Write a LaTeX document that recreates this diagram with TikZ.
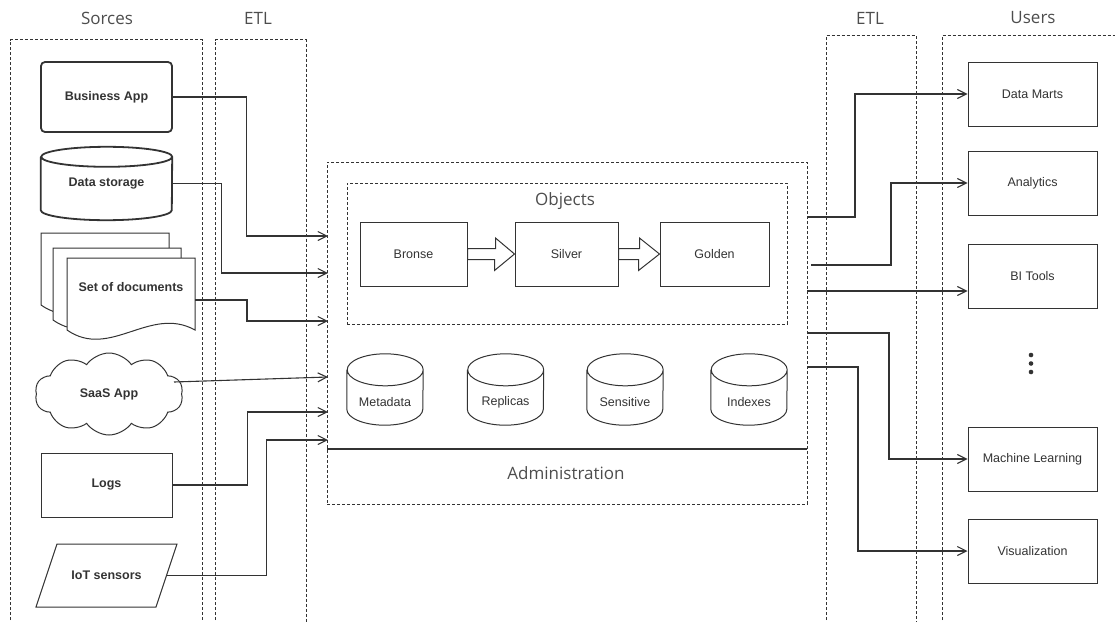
\documentclass[tikz,border=0pt]{standalone}
\usepackage{fontspec}
\setmainfont{Liberation Sans}
\newfontfamily\titlefont{Open Sans}
\usetikzlibrary{arrows.meta,calc,shapes.symbols,shapes.geometric}
\definecolor{ink}{HTML}{333333}
\definecolor{ttlc}{HTML}{4D4D4D}
\tikzset{
  lane/.style={draw=ink, line width=0.9pt, dash pattern=on 3pt off 2pt},
  ttl/.style={font=\titlefont\fontsize{17}{20}\selectfont, text=ttlc, inner sep=0pt},
  boxlbl/.style={font=\fontsize{12.5}{15}\selectfont, text=ink},
  srclbl/.style={font=\bfseries\fontsize{12.5}{15}\selectfont, text=ink},
  plainbox/.style={draw=ink, line width=1pt, rectangle, inner sep=0pt},
  hidden/.style={inner sep=0pt, rectangle},
  conn/.style={draw=ink, line width=1.1pt, -{Straight Barb[length=9pt,width=9pt,line width=1.1pt]}},
  shp/.style={draw=ink, line width=1pt, fill=white},
}
\newcommand\cylout[4]{%
  \draw[draw=ink, line width=#4] ($(#1.north west)+(0,#3)$) -- ($(#1.south west)+(0,-#3)$)
    arc[start angle=180,end angle=360,x radius=#2pt,y radius=#3pt]
    -- ($(#1.north east)+(0,#3)$)
    arc[start angle=0,end angle=360,x radius=#2pt,y radius=#3pt];}
\newcommand\docshape[2]{%
  \begin{scope}[shift={(#1,#2)}]
    \draw[shp] (0,0) -- (128,0) -- (128,72) .. controls (83,47) and (43,102) .. (0,72) -- cycle;
  \end{scope}}
\begin{document}
\begin{tikzpicture}[x=1pt,y=-1pt]
\useasboundingbox (0,0) rectangle (1115,621);
% swimlanes
\draw[lane] (10.5,630) -- (10.5,39.5) -- (202.5,39.5) -- (202.5,630);
\draw[lane] (215.5,630) -- (215.5,39.5) -- (306,39.5) -- (306,630);
\draw[lane] (826,630) -- (826,35.5) -- (916,35.5) -- (916,630);
\draw[lane] (942,630) -- (942,35.5) -- (1120,35.5);
\node[ttl] (tsrc) at (107,18) {Sorces};
\node[ttl] (tetl1) at (258,18) {ETL};
\node[ttl] (tetl2) at (870,18) {ETL};
\node[ttl] (tusr) at (1033,18) {Users};

% sources
\node[plainbox, rounded corners=4pt, line width=1.8pt, minimum width=131, minimum height=70, srclbl] (ba) at (106.5,97) {Business App};
\node[hidden, minimum width=131, minimum height=73] (ds) at (106.5,183.5) {};
\cylout{ds}{65.5}{10}{1.8pt}
\node[srclbl] at (ds.center) {Data storage};
\docshape{41}{233}
\docshape{53}{248}
\docshape{67}{258}
\node[srclbl] (docs) at (131,287) {Set of documents};
\coordinate (docsout) at (195,300);
\node[cloud, cloud puffs=10, cloud puff arc=110, aspect=1.8, draw=ink, line width=1pt, minimum width=148, minimum height=82, inner sep=0pt, srclbl] (saas) at (109,394) {SaaS App};
\coordinate (saasout) at (174,382);
\node[plainbox, minimum width=131, minimum height=64, srclbl] (logs) at (106.5,485) {Logs};
\draw[shp] (57,544) -- (177,544) -- (156,607) -- (36,607) -- cycle;
\node[hidden, minimum width=120, minimum height=63, srclbl] (iot) at (106.5,575.5) {IoT sensors};

% central store
\node[lane, minimum width=480, minimum height=342, inner sep=0pt] (lake) at (567,333) {};
\coordinate (admL) at (327,449);
\coordinate (admR) at (807,449);
\draw[ink, line width=1.3pt] (admL) -- (admR);
\node[ttl] (admin) at (566,473) {Administration};
\node[lane, minimum width=440, minimum height=141, inner sep=0pt] (objects) at (567,253.5) {};
\node[ttl] (objttl) at (565,201) {Objects};
\node[plainbox, boxlbl, minimum width=107, minimum height=64] (bronse) at (413.5,254) {Bronse};
\node[plainbox, boxlbl, minimum width=103, minimum height=64] (silver) at (566.5,254) {Silver};
\node[plainbox, boxlbl, minimum width=109, minimum height=64] (golden) at (714.5,254) {Golden};
\draw[shp] ($(bronse.east)+(0,-5.5)$) -- ++(28,0) -- ++(0,-10.5) -- (silver.west) -- ++(-20,16.5) -- ++(0,-11) -- ($(bronse.east)+(0,5.5)$) -- cycle;
\draw[shp] ($(silver.east)+(0,-5.5)$) -- ++(21,0) -- ++(0,-10.5) -- (golden.west) -- ++(-21,16.5) -- ++(0,-11) -- ($(silver.east)+(0,5.5)$) -- cycle;
\foreach \nm/\cx/\tx in {meta/385/Metadata, repl/505.5/Replicas, sens/625/Sensitive, idx/749/Indexes}{
  \node[hidden, minimum width=76, minimum height=71] (\nm) at (\cx,389.5) {};
  \cylout{\nm}{38}{16}{1pt}
  \node[boxlbl] at ($(\nm.center)+(0,12.5)$) {\tx};
}

% users
\node[plainbox, boxlbl, minimum width=129, minimum height=64] (dm) at (1032.5,94) {Data Marts};
\node[plainbox, boxlbl, minimum width=129, minimum height=64] (an) at (1032.5,183) {Analytics};
\node[plainbox, boxlbl, minimum width=129, minimum height=64] (bi) at (1032.5,276) {BI Tools};
\node[plainbox, boxlbl, minimum width=129, minimum height=64] (ml) at (1032.5,459) {Machine Learning};
\node[plainbox, boxlbl, minimum width=129, minimum height=64] (vis) at (1032.5,551) {Visualization};
\fill[ink] (1031,355) circle[radius=2.3pt] (1031,363.5) circle[radius=2.3pt] (1031,372) circle[radius=2.3pt];

% inputs
\coordinate (in1) at (328,236);
\coordinate (in2) at (328,273);
\coordinate (in3) at (328,321);
\coordinate (in4) at (328,377);
\coordinate (in5) at (328,412);
\coordinate (in6) at (328,440);
\draw[conn] (ba.east) -- ++(74,0) |- (in1);
\draw[conn] (ds.east) -- ++(49,0) |- (in2);
\draw[conn] (docsout) -- ++(52,0) |- (in3);
\draw[conn] (saasout) -- (in4);
\draw[conn] (logs.east) -- ++(75,0) |- (in5);
\draw[conn] (iot.east) -- ++(99.5,0) |- (in6);

% outputs
\coordinate (out1) at (807,217);
\coordinate (out2) at (811,265);
\coordinate (out3) at (807,291);
\coordinate (out4) at (807,333);
\coordinate (out5) at (807,367);
\draw[conn] (out1) -- ++(48,0) |- (dm.west);
\draw[conn] (out2) -- ++(80,0) |- (an.west);
\draw[conn] (out3) -- (out3 -| bi.west);
\draw[conn] (out4) -- ++(82,0) |- (ml.west);
\draw[conn] (out5) -- ++(51,0) |- (vis.west);
\end{tikzpicture}
\end{document}
